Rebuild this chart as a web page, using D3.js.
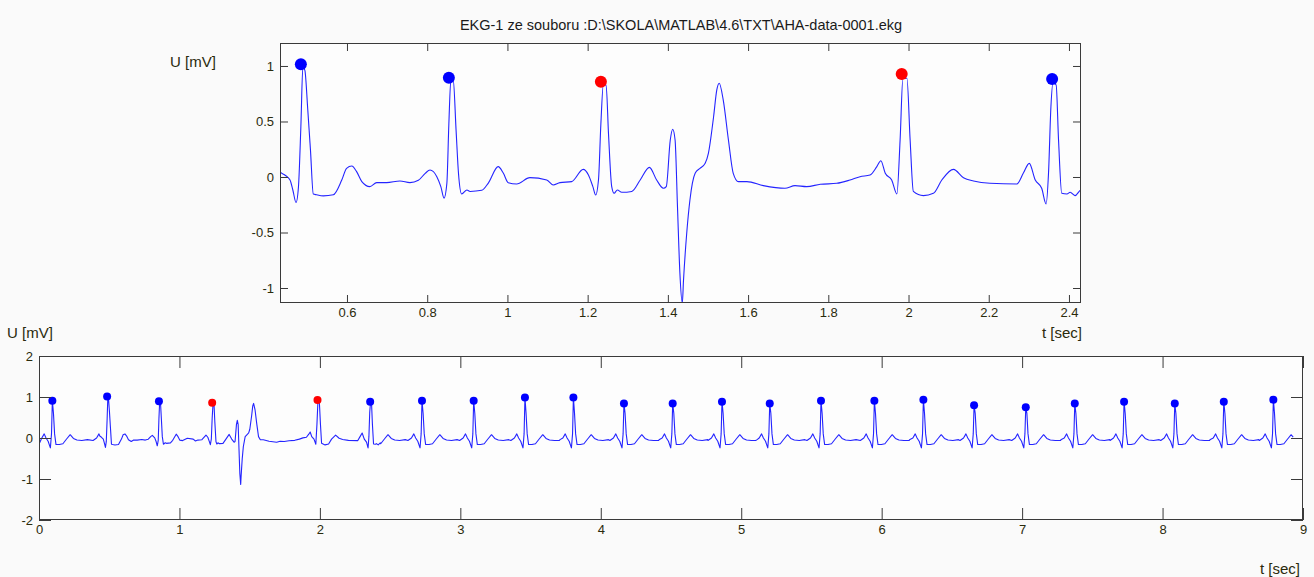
<!DOCTYPE html>
<html>
<head>
<meta charset="utf-8">
<script src="https://cdn.jsdelivr.net/npm/d3@7"></script>
<style>
  body { margin: 0; background: #fafafa; }
  svg { display: block; font-family: "Liberation Sans", Arial, sans-serif; }
</style>
</head>
<body>
<svg id="chart"></svg>
<script>
// detected R peaks (time [s], amplitude [mV]); red = flagged beats
const peakTimes = [0.095, 0.485, 0.854, 1.233, 1.983, 2.358, 2.727, 3.095, 3.46, 3.805, 4.165, 4.512,
    4.863, 5.203, 5.568, 5.948, 6.297, 6.658, 7.026, 7.375, 7.726, 8.087, 8.436, 8.789];
const peakValues = [0.91, 1.015, 0.895, 0.859, 0.928, 0.883, 0.91, 0.91, 0.99, 0.99, 0.84, 0.84,
    0.886, 0.84, 0.91, 0.91, 0.935, 0.80, 0.748, 0.84, 0.886, 0.84, 0.886, 0.935];
const peakFlagged = [0, 0, 0, 1, 1, 0, 0, 0, 0, 0, 0, 0, 0, 0, 0, 0, 0, 0, 0, 0, 0, 0, 0, 0];

// trace (t, U)
const traceDetail = [
    [0.433, 0.048], [0.445, 0.018], [0.458, -0.027], [0.465, -0.117], [0.473, -0.23], [0.479, -0.09],
    [0.485, 0.45], [0.490, 0.99], [0.495, 0.96], [0.502, 0.62], [0.509, 0.24], [0.516, -0.153],
    [0.524, -0.16], [0.541, -0.17], [0.566, -0.16], [0.587, -0.027], [0.599, 0.078], [0.612, 0.099],
    [0.624, 0.048], [0.637, -0.042], [0.657, -0.087], [0.674, -0.051], [0.699, -0.051], [0.732, -0.036],
    [0.757, -0.051], [0.778, -0.03], [0.795, 0.033], [0.807, 0.063], [0.824, 0.003], [0.834, -0.087],
    [0.842, -0.19], [0.849, -0.057], [0.854, 0.48], [0.859, 0.874], [0.865, 0.87], [0.872, 0.42],
    [0.878, 0.033], [0.886, -0.153], [0.899, -0.117], [0.907, -0.13], [0.936, -0.12], [0.952, -0.057],
    [0.977, 0.093], [0.990, 0.033], [1.002, -0.051], [1.023, -0.063], [1.056, -0.006], [1.098, -0.027],
    [1.114, -0.072], [1.131, -0.051], [1.160, -0.042], [1.189, 0.069], [1.202, 0.018], [1.213, -0.087],
    [1.220, -0.162], [1.227, -0.027], [1.233, 0.48], [1.239, 0.829], [1.246, 0.829], [1.252, 0.39],
    [1.260, -0.087], [1.266, -0.147], [1.274, -0.117], [1.285, -0.138], [1.310, -0.13], [1.331, -0.027],
    [1.354, 0.087], [1.372, -0.027], [1.389, -0.102], [1.396, -0.087], [1.406, 0.333], [1.412, 0.43],
    [1.418, 0.333], [1.424, -0.27], [1.430, -0.867], [1.436, -1.135], [1.439, -0.93], [1.447, -0.507],
    [1.455, -0.207], [1.468, 0.033], [1.480, 0.078], [1.493, 0.123], [1.501, 0.213], [1.514, 0.543],
    [1.522, 0.784], [1.528, 0.844], [1.538, 0.694], [1.551, 0.333], [1.563, 0.033], [1.576, -0.042],
    [1.597, -0.042], [1.638, -0.078], [1.692, -0.102], [1.717, -0.078], [1.746, -0.087], [1.780, -0.066],
    [1.821, -0.057], [1.854, -0.027], [1.879, 0.003], [1.904, 0.018], [1.921, 0.093], [1.931, 0.147],
    [1.942, 0.033], [1.958, -0.027], [1.971, -0.153], [1.979, 0.333], [1.986, 0.889], [1.996, 0.889],
    [2.004, 0.333], [2.012, -0.13], [2.037, -0.168], [2.062, -0.147], [2.083, -0.027], [2.112, 0.069],
    [2.137, -0.006], [2.162, -0.036], [2.203, -0.057], [2.270, -0.063], [2.286, 0.033], [2.301, 0.123],
    [2.316, -0.027], [2.332, -0.102], [2.343, -0.243], [2.349, 0.033], [2.355, 0.633], [2.360, 0.844],
    [2.368, 0.829], [2.374, 0.333], [2.382, -0.147], [2.395, -0.153], [2.403, -0.138], [2.415, -0.168],
    [2.430, -0.117]
];

// normal beat shape, offsets from the R peak
const beatBefore = [[-0.1, -0.06], [-0.075, 0.0], [-0.058, 0.1], [-0.045, 0.0], [-0.03, -0.08],
    [-0.014, -0.24], [-0.006, 0.1]];
const beatAfter = [[0.008, 0.6], [0.016, 0.1], [0.026, -0.16], [0.05, -0.16], [0.075, -0.14],
    [0.1, -0.03], [0.127, 0.08], [0.15, -0.01], [0.175, -0.05], [0.21, -0.06], [0.25, -0.04]];
const traceStart = [0, -0.15];
const traceEnd = [8.93, 0.02];

const xTicksTop = [0.6, 0.8, 1, 1.2, 1.4, 1.6, 1.8, 2, 2.2, 2.4];
const yTicksTop = [-1, -0.5, 0, 0.5, 1];
const xTicksBottom = [0, 1, 2, 3, 4, 5, 6, 7, 8, 9];
const yTicksBottom = [-2, -1, 0, 1, 2];

const title = "EKG-1 ze souboru :D:\\SKOLA\\MATLAB\\4.6\\TXT\\AHA-data-0001.ekg";

// build full record: detailed trace + beat shape around the other peaks
const detailStart = traceDetail[0][0];
const detailEnd = traceDetail[traceDetail.length - 1][0];
let signal = [traceStart, ...traceDetail, traceEnd];
peakTimes.forEach((t0, i) => {
    const pts = [...beatBefore.map(p => [t0 + p[0], p[1]]), [t0, peakValues[i]],
        ...beatAfter.map(p => [t0 + p[0], p[1]])];
    pts.forEach(p => {
        if (p[0] > traceStart[0] && p[0] < traceEnd[0] && (p[0] < detailStart || p[0] > detailEnd)) signal.push(p);
    });
});
signal.sort((a, b) => a[0] - b[0]);

const peaks = peakTimes.map((t, i) => ({ t: t, v: peakValues[i], red: peakFlagged[i] === 1 }));

const width = 1314, height = 577;
const svg = d3.select("#chart").attr("width", width).attr("height", height);
const textColor = "#2a2a0c";

function drawPanel(opts) {
    const { left, right, top, bottom, xDomain, yDomain, xTicks, yTicks, tick, data, markR, id, curve } = opts;
    const x = d3.scaleLinear().domain(xDomain).range([left, right]);
    const y = d3.scaleLinear().domain(yDomain).range([bottom, top]);
    const g = svg.append("g");

    g.append("rect").attr("x", left).attr("y", top)
        .attr("width", right - left).attr("height", bottom - top).attr("fill", "#fdfdfd");

    g.append("clipPath").attr("id", id).append("rect")
        .attr("x", left).attr("y", top).attr("width", right - left).attr("height", bottom - top);

    const line = d3.line().curve(curve).x(d => x(d[0])).y(d => y(d[1]));
    g.append("path").datum(data.filter(d => d[0] >= xDomain[0] - 0.05 && d[0] <= xDomain[1] + 0.05))
        .attr("clip-path", `url(#${id})`)
        .attr("fill", "none").attr("stroke", "#2424ff").attr("stroke-width", 1.1)
        .attr("stroke-linejoin", "round")
        .attr("d", line);

    g.append("g").selectAll("circle")
        .data(peaks.filter(p => p.t >= xDomain[0] && p.t <= xDomain[1]))
        .join("circle")
        .attr("cx", d => x(d.t)).attr("cy", d => y(d.v)).attr("r", markR)
        .attr("fill", d => d.red ? "#ff0000" : "#0000ff");

    const fmt = d => String(d);
    const styleAxis = sel => {
        sel.select(".domain").remove();
        sel.selectAll(".tick line").attr("stroke", "#3a3a3a");
        sel.selectAll(".tick text").attr("fill", textColor).attr("font-size", "13px")
            .attr("font-family", "Liberation Sans, Arial, sans-serif");
    };

    g.append("g").attr("transform", `translate(0,${bottom})`)
        .call(d3.axisBottom(x).tickValues(xTicks).tickFormat(fmt).tickSizeInner(-tick).tickSizeOuter(0).tickPadding(5))
        .call(styleAxis);
    g.append("g").attr("transform", `translate(0,${top})`)
        .call(d3.axisTop(x).tickValues(xTicks).tickFormat("").tickSizeInner(-tick).tickSizeOuter(0))
        .call(styleAxis);
    g.append("g").attr("transform", `translate(${left},0)`)
        .call(d3.axisLeft(y).tickValues(yTicks).tickFormat(fmt).tickSizeInner(-tick).tickSizeOuter(0).tickPadding(6))
        .call(styleAxis);
    g.append("g").attr("transform", `translate(${right},0)`)
        .call(d3.axisRight(y).tickValues(yTicks).tickFormat("").tickSizeInner(-tick).tickSizeOuter(0))
        .call(styleAxis);

    g.append("rect").attr("x", left + 0.5).attr("y", top + 0.5)
        .attr("width", right - left - 1).attr("height", bottom - top - 1)
        .attr("fill", "none").attr("stroke", "#3a3a3a").attr("stroke-width", 1);
    return g;
}

drawPanel({
    id: "clipTop", left: 280, right: 1081, top: 43, bottom: 303,
    xDomain: [0.433, 2.43], yDomain: [-1.135, 1.207],
    xTicks: xTicksTop, yTicks: yTicksTop, tick: 8, data: signal, markR: 6, curve: d3.curveMonotoneX
});
drawPanel({
    id: "clipBottom", left: 39, right: 1303, top: 356, bottom: 520,
    xDomain: [0, 9], yDomain: [-2, 2],
    xTicks: xTicksBottom, yTicks: yTicksBottom, tick: 12, data: signal, markR: 4, curve: d3.curveLinear
});

const label = (txt, x, y, anchor, size) => svg.append("text")
    .attr("x", x).attr("y", y).attr("dy", "0.35em")
    .attr("text-anchor", anchor || "start")
    .attr("fill", textColor).attr("font-size", (size || 15) + "px").text(txt);

label(title, 681, 25, "middle", 14.5).attr("fill", "#1a1a1a");
label("U [mV]", 170, 62);
label("t [sec]", 1042, 333);
label("U [mV]", 7, 333);
label("t [sec]", 1260, 569);
</script>
</body>
</html>
